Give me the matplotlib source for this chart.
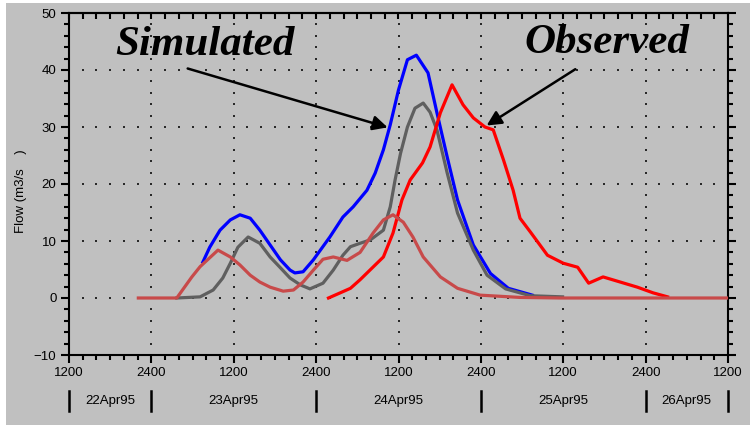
import numpy as np
import matplotlib
matplotlib.use("Agg")
import matplotlib.pyplot as plt
from matplotlib.patches import Rectangle
from matplotlib.transforms import blended_transform_factory

# hours counted from 22Apr95 12:00
blue_h = [19.5, 20.5, 22.0, 23.5, 24.9, 26.4, 27.8, 29.3, 30.8, 32.2, 32.9, 34.1, 35.6,
          38.0, 39.9, 41.4, 43.4, 44.6, 45.8, 46.8, 48.0, 49.3, 50.6, 52.3, 53.6, 55.1,
          56.6, 58.9, 61.4, 64.0, 67.5]
blue_q = [6.3, 8.9, 11.9, 13.7, 14.6, 14.0, 11.9, 9.3, 6.7, 4.9, 4.4, 4.6, 6.7,
          10.7, 14.2, 16.0, 18.9, 21.9, 26.0, 30.4, 36.5, 41.8, 42.6, 39.5, 32.5, 24.7,
          17.2, 9.3, 4.3, 1.7, 0.5]

gray_h = [15.7, 19.1, 21.0, 22.4, 23.5, 24.6, 26.1, 27.8, 29.3, 30.8, 32.2, 33.7, 35.1,
          37.0, 38.5, 39.9, 41.0, 42.4, 43.9, 45.8, 46.8, 47.5, 48.3, 49.3, 50.4, 51.6,
          52.6, 53.6, 55.1, 56.6, 58.9, 60.9, 63.6, 67.2, 71.9]
gray_q = [0.0, 0.2, 1.4, 3.5, 6.1, 8.9, 10.7, 9.6, 7.2, 5.3, 3.5, 2.3, 1.6,
          2.6, 4.9, 7.5, 9.0, 9.6, 10.2, 11.9, 16.0, 20.7, 25.4, 30.0, 33.3, 34.2,
          32.6, 29.5, 21.9, 14.9, 8.4, 4.0, 1.6, 0.4, 0.2]

brown_h = [10.1, 15.7, 17.9, 19.1, 21.7, 23.5, 24.9, 26.4, 27.8, 29.3, 31.2, 32.7, 34.1,
           35.6, 37.0, 38.5, 40.5, 42.4, 44.3, 45.8, 47.2, 48.7, 50.1, 51.6, 54.1, 56.6,
           59.9, 65.7, 71.6, 96.0]
brown_q = [0.0, 0.0, 3.7, 5.5, 8.4, 7.2, 5.8, 4.0, 2.8, 1.9, 1.2, 1.4, 2.8,
           4.9, 6.8, 7.2, 6.6, 8.0, 11.4, 13.7, 14.6, 13.3, 10.7, 7.2, 3.7, 1.7,
           0.5, 0.1, 0.0, 0.0]

obs_h = [37.8, 39.5, 41.0, 42.4, 45.8, 47.2, 48.5, 49.7, 51.5, 52.6, 54.1, 55.8, 57.4,
         58.9, 60.6, 61.8, 63.3, 64.7, 65.7, 67.2, 69.7, 72.0, 74.1, 75.7, 77.8, 80.3,
         82.8, 85.1, 87.2]
obs_q = [0.0, 0.9, 1.7, 3.2, 7.2, 11.4, 17.2, 20.7, 23.7, 26.5, 32.5, 37.4, 33.9,
         31.6, 30.0, 29.5, 24.2, 18.9, 14.0, 11.6, 7.5, 6.1, 5.4, 2.6, 3.7, 2.8,
         1.9, 0.9, 0.2]

tick_labels = ['1200', '2400', '1200', '2400', '1200', '2400', '1200', '2400', '1200']
day_names = ['22Apr95', '23Apr95', '24Apr95', '25Apr95', '26Apr95']
day_centers = [6, 24, 48, 72, 90]
day_bounds = [0, 12, 36, 60, 84, 96]

bg = '#c0c0c0'
fig = plt.figure(figsize=(7.5, 4.25), dpi=100, facecolor='white')
fig.patches.append(Rectangle((6 / 750, 0), 1, 1 - 3 / 425, transform=fig.transFigure,
                             facecolor=bg, edgecolor='none', zorder=-10))
ax = fig.add_axes([69 / 750, 1 - 355 / 425, 659 / 750, 342 / 425])
ax.set_facecolor(bg)

ax.set_xlim(0, 96)
ax.set_ylim(-10, 50)

# dotted grid
minor_x = np.arange(2, 96, 2)
minor_y = np.arange(-8, 50, 2)
for v in [0, 10, 20, 30, 40]:
    ax.plot(minor_x, np.full(len(minor_x), v), ls='none', marker='s', ms=1.8,
            color='#282828', mew=0, zorder=1)
for h in range(12, 96, 12):
    ax.plot(np.full(len(minor_y), h), minor_y, ls='none', marker='s', ms=1.8,
            color='#282828', mew=0, zorder=1)

ax.plot(blue_h, blue_q, color='#0000ff', lw=2.3, zorder=3)
ax.plot(gray_h, gray_q, color='#5f5f5f', lw=2.3, zorder=3)
ax.plot(obs_h, obs_q, color='#ff0000', lw=2.3, zorder=4)
ax.plot(brown_h, brown_q, color='#c84a4a', lw=2.3, zorder=4)

for s in ax.spines.values():
    s.set_linewidth(1.5)

ax.set_xticks(range(0, 97, 12))
ax.set_xticklabels(tick_labels)
ax.set_xticks(minor_x, minor=True)
ax.set_yticks(range(-10, 51, 10))
ax.set_yticks(minor_y, minor=True)
ax.tick_params(axis='both', which='major', direction='out', length=6, width=1.5,
               labelsize=9.5, pad=3)
ax.tick_params(axis='both', which='minor', direction='out', length=3.5, width=1.5)
ax.tick_params(axis='y', which='both', right=True)
for lab in ax.get_xticklabels() + ax.get_yticklabels():
    lab.set_fontfamily('Liberation Sans')

top = ax.secondary_xaxis('top')
top.set_xticks(range(0, 97, 12))
top.set_xticks(minor_x, minor=True)
top.tick_params(which='both', direction='in', length=4, width=1.5, labeltop=False)
top.spines['top'].set_linewidth(1.5)

ax.set_ylabel('Flow (m3/s    )', fontsize=9.5, fontfamily='Liberation Sans')
ax.yaxis.set_label_coords(-0.064, 0.48)

# day row under the axis
tr = blended_transform_factory(ax.transData, ax.transAxes)
for d in day_bounds:
    ax.plot([d, d], [-0.105, -0.165], transform=tr, color='black', lw=1.8, clip_on=False)
for name, c in zip(day_names, day_centers):
    ax.text(c, -0.135, name, transform=tr, ha='center', va='center', fontsize=9.5,
            fontfamily='Liberation Sans')

# annotations
ax.text(19.8, 44.4, 'Simulated', ha='center', va='center', fontsize=31,
        fontfamily='Liberation Serif', fontweight='bold', fontstyle='italic')
ax.text(78.3, 44.7, 'Observed', ha='center', va='center', fontsize=31,
        fontfamily='Liberation Serif', fontweight='bold', fontstyle='italic')
ax.annotate('', xy=(46.8, 29.8), xytext=(16.9, 40.4),
            arrowprops=dict(arrowstyle='-|>', mutation_scale=22, lw=1.8, color='black'))
ax.annotate('', xy=(60.5, 30.0), xytext=(74.1, 40.4),
            arrowprops=dict(arrowstyle='-|>', mutation_scale=22, lw=1.8, color='black'))

fig.savefig('out.png', dpi=100, facecolor=fig.get_facecolor())
